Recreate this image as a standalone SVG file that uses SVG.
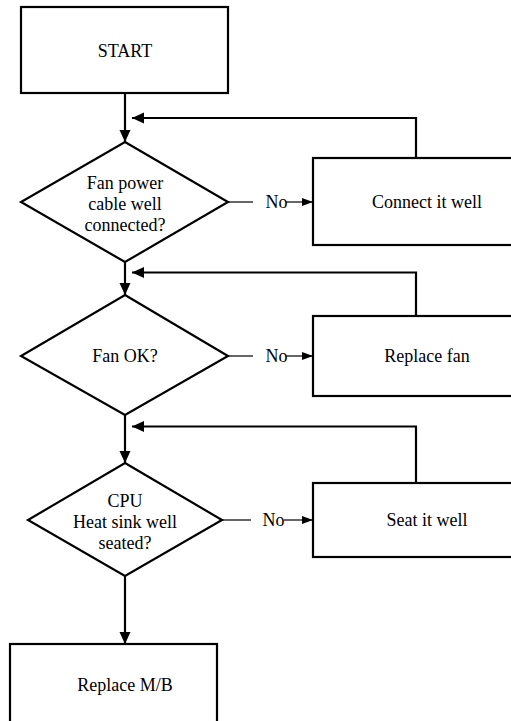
<svg xmlns="http://www.w3.org/2000/svg" width="511" height="721" viewBox="0 0 511 721" font-family="Liberation Serif" font-size="18">
<style>
  .box { fill: #fff; stroke: #000; stroke-width: 2.2; }
  .dia { fill: #fff; stroke: #000; stroke-width: 2.2; }
  .t { fill: #000; text-anchor: middle; }
  .main { fill: none; stroke: #000; stroke-width: 2.2; }
  .thin { fill: none; stroke: #000; stroke-width: 1.2; }
</style>
<defs>
  <marker id="big" markerUnits="userSpaceOnUse" viewBox="0 0 12 12" markerWidth="12" markerHeight="12" refX="12" refY="6" orient="auto">
    <path d="M0,0.5 L12,6 L0,11.5 z" fill="#000"/>
  </marker>
  <marker id="small" markerUnits="userSpaceOnUse" viewBox="0 0 11 9" markerWidth="11" markerHeight="9" refX="11" refY="4.5" orient="auto">
    <path d="M0,0.5 L11,4.5 L0,8.5 z" fill="#000"/>
  </marker>
</defs>
<g id="connectors">
  <path class="main" d="M125,93 L125,142" marker-end="url(#big)"/>
  <path class="main" d="M416,158 L416,118 L132,118" marker-end="url(#big)"/>
  <path class="main" d="M125,262 L125,295" marker-end="url(#big)"/>
  <path class="main" d="M416,316 L416,272.5 L132,272.5" marker-end="url(#big)"/>
  <path class="main" d="M125,415 L125,463" marker-end="url(#big)"/>
  <path class="main" d="M416,483 L416,426.5 L132,426.5" marker-end="url(#big)"/>
  <path class="main" d="M125,576 L125,644" marker-end="url(#big)"/>
  <path class="thin" d="M228,202 L253,202"/>
  <path class="thin" d="M286,202 L313,202" marker-end="url(#small)"/>
  <text class="t" x="276.5" y="208">No</text>
  <path class="thin" d="M228,356 L253,356"/>
  <path class="thin" d="M286,356 L313,356" marker-end="url(#small)"/>
  <text class="t" x="276.5" y="362">No</text>
  <path class="thin" d="M222,520 L251,520"/>
  <path class="thin" d="M284,520 L313,520" marker-end="url(#small)"/>
  <text class="t" x="273.5" y="526">No</text>
</g>
<g id="start">
  <rect class="box" x="21" y="7" width="207" height="86"/>
  <text class="t" x="125" y="57">START</text>
</g>
<g id="q1">
  <polygon class="dia" points="125,142 228,202 125,262 21,202"/>
  <text class="t" x="125" y="189">Fan power</text>
  <text class="t" x="125" y="210">cable well</text>
  <text class="t" x="125" y="231">connected?</text>
</g>
<g id="connect">
  <rect class="box" x="313" y="158" width="230" height="87"/>
  <text class="t" x="427" y="208">Connect it well</text>
</g>
<g id="q2">
  <polygon class="dia" points="125,295 228,356 125,415 21,356"/>
  <text class="t" x="125" y="362">Fan OK?</text>
</g>
<g id="replacefan">
  <rect class="box" x="313" y="316" width="230" height="80"/>
  <text class="t" x="427" y="362">Replace fan</text>
</g>
<g id="q3">
  <polygon class="dia" points="125,463 222,520 125,576 28,520"/>
  <text class="t" x="125" y="507">CPU</text>
  <text class="t" x="125" y="528">Heat sink well</text>
  <text class="t" x="125" y="549">seated?</text>
</g>
<g id="seat">
  <rect class="box" x="313" y="483" width="230" height="74"/>
  <text class="t" x="427" y="526">Seat it well</text>
</g>
<g id="replacemb">
  <rect class="box" x="10" y="644" width="207" height="90"/>
  <text class="t" x="125" y="691">Replace M/B</text>
</g>
</svg>
